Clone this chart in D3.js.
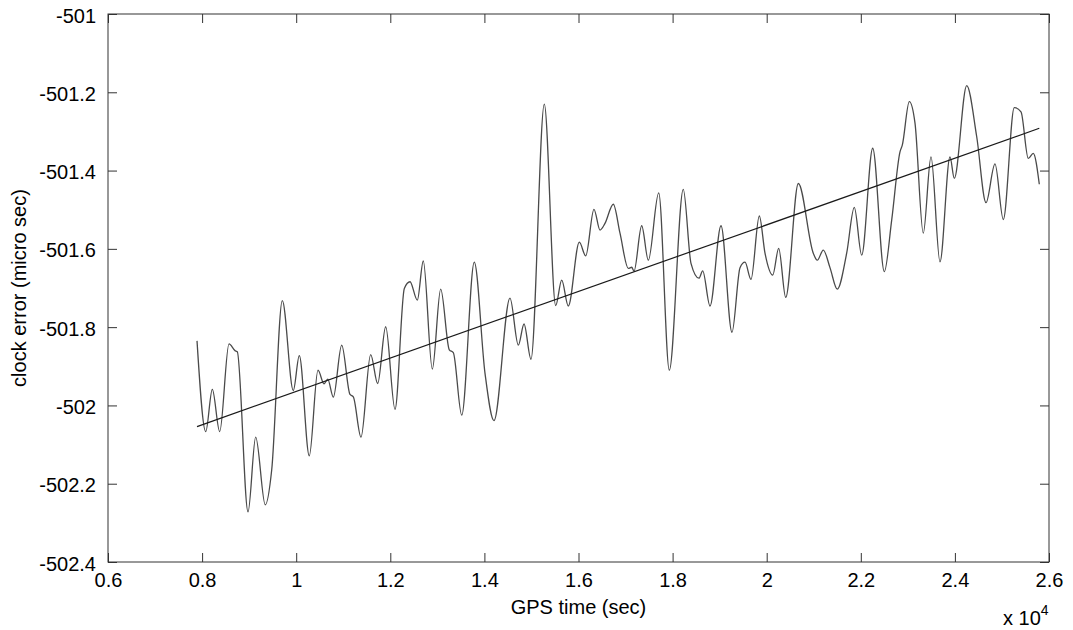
<!DOCTYPE html>
<html>
<head>
<meta charset="utf-8">
<script src="https://cdn.jsdelivr.net/npm/d3@7"></script>
<style>
  body { margin: 0; background: #fff; }
  svg text { font-family: "Liberation Sans", Arial, sans-serif; fill: #000; }
</style>
</head>
<body>
<script>
// GPS time (sec) and clock error (micro sec)
const gpsTime = [
  7892, 8077, 8217, 8374, 8572, 8699, 8748, 8976, 9139, 9343,
  9479, 9705, 9938, 10066, 10278, 10463, 10591, 10670, 10789, 10967,
  11143, 11214, 11377, 11583, 11732, 11902, 12100, 12298, 12419, 12574,
  12701, 12893, 13071, 13254, 13339, 13518, 13785, 14013, 14204, 14544,
  14721, 14842, 14990, 15273, 15515, 15643, 15783, 16017, 16153, 16329,
  16457, 16563, 16740, 16882, 17059, 17131, 17180, 17343, 17484, 17705,
  17930, 18227, 18391, 18561, 18640, 18795, 19029, 19262, 19433, 19539,
  19666, 19843, 19964, 20128, 20255, 20404, 20672, 20990, 21075, 21203,
  21345, 21500, 21700, 21862, 22019, 22253, 22500, 22657, 22833, 22882,
  23031, 23152, 23328, 23492, 23683, 23896, 23987, 24251, 24463, 24661,
  24852, 25029, 25262, 25405, 25560, 25666, 25794
];
const clockError = [
  -501.835, -502.067, -501.959, -502.067, -501.843, -501.860, -501.863, -502.272, -502.081, -502.254,
  -502.165, -501.732, -501.962, -501.873, -502.129, -501.910, -501.945, -501.933, -501.979, -501.846,
  -501.972, -501.978, -502.081, -501.870, -501.944, -501.799, -502.010, -501.701, -501.684, -501.731,
  -501.631, -501.907, -501.703, -501.858, -501.865, -502.025, -501.634, -501.918, -502.039, -501.726,
  -501.846, -501.792, -501.882, -501.230, -501.745, -501.680, -501.746, -501.583, -501.618, -501.499,
  -501.552, -501.535, -501.486, -501.560, -501.650, -501.647, -501.657, -501.541, -501.629, -501.457,
  -501.910, -501.448, -501.637, -501.675, -501.656, -501.746, -501.541, -501.813, -501.648, -501.634,
  -501.678, -501.516, -501.611, -501.667, -501.599, -501.724, -501.433, -501.611, -501.629, -501.603,
  -501.648, -501.703, -501.611, -501.494, -501.616, -501.343, -501.658, -501.526, -501.352, -501.335,
  -501.224, -501.279, -501.560, -501.365, -501.633, -501.365, -501.420, -501.183, -501.313, -501.482,
  -501.383, -501.525, -501.239, -501.250, -501.369, -501.356, -501.435
];

// linear fit end points
const fitTime = [7892, 25794];
const fitError = [-502.054, -501.292];

const xTicks = [6000, 8000, 10000, 12000, 14000, 16000, 18000, 20000, 22000, 24000, 26000];
const xTickLabels = ["0.6", "0.8", "1", "1.2", "1.4", "1.6", "1.8", "2", "2.2", "2.4", "2.6"];
const yTicks = [-502.4, -502.2, -502, -501.8, -501.6, -501.4, -501.2, -501];
const yTickLabels = ["-502.4", "-502.2", "-502", "-501.8", "-501.6", "-501.4", "-501.2", "-501"];

const width = 1073, height = 630;
const margin = {left: 108, right: 24, top: 14, bottom: 68};
const chartWidth = width - margin.left - margin.right;
const chartHeight = height - margin.top - margin.bottom;

const svg = d3.select("body")
    .append("svg")
      .attr("width", width)
      .attr("height", height);

const g = svg.append("g")
    .attr("transform", "translate(" + margin.left + "," + margin.top + ")");

const xScale = d3.scaleLinear()
    .domain([6000, 26000])
    .range([0, chartWidth]);

const yScale = d3.scaleLinear()
    .domain([-502.4, -501])
    .range([chartHeight, 0]);

const fontSize = "20px";
const axisColor = "#333";

// bottom axis with labels
const xAxis = g.append("g")
    .attr("transform", "translate(0," + chartHeight + ")")
    .call(d3.axisBottom(xScale)
        .tickValues(xTicks)
        .tickFormat((d, i) => xTickLabels[i])
        .tickSizeInner(-9)
        .tickSizeOuter(0)
        .tickPadding(11));

// left axis with labels
const yAxis = g.append("g")
    .call(d3.axisLeft(yScale)
        .tickValues(yTicks)
        .tickFormat((d, i) => yTickLabels[i])
        .tickSizeInner(-9)
        .tickSizeOuter(0)
        .tickPadding(12));

// top and right ticks, no labels
const xTop = g.append("g")
    .call(d3.axisTop(xScale)
        .tickValues(xTicks)
        .tickFormat("")
        .tickSizeInner(-9)
        .tickSizeOuter(0));

const yRight = g.append("g")
    .attr("transform", "translate(" + chartWidth + ",0)")
    .call(d3.axisRight(yScale)
        .tickValues(yTicks)
        .tickFormat("")
        .tickSizeInner(-9)
        .tickSizeOuter(0));

[xAxis, yAxis, xTop, yRight].forEach(a => {
  a.select(".domain").remove();
  a.selectAll(".tick line").attr("stroke", axisColor);
  a.selectAll(".tick text")
      .style("font-size", fontSize)
      .style("font-family", "'Liberation Sans', Arial, sans-serif")
      .attr("fill", "#000");
});
yAxis.selectAll(".tick text").attr("dy", "0.4em");

// box
g.append("rect")
    .attr("x", 0)
    .attr("y", 0)
    .attr("width", chartWidth)
    .attr("height", chartHeight)
    .attr("fill", "none")
    .attr("stroke", axisColor)
    .attr("stroke-width", 1);

// data curve
const series = gpsTime.map((t, i) => ({t: t, e: clockError[i]}));
const line = d3.line()
    .x(d => xScale(d.t))
    .y(d => yScale(d.e))
    .curve(d3.curveMonotoneX);

g.append("path")
    .datum(series)
    .attr("fill", "none")
    .attr("stroke", "#4a4a4a")
    .attr("stroke-width", 1.3)
    .attr("d", line);

// linear fit
const fit = fitTime.map((t, i) => ({t: t, e: fitError[i]}));
g.append("path")
    .datum(fit)
    .attr("fill", "none")
    .attr("stroke", "#1a1a1a")
    .attr("stroke-width", 1.2)
    .attr("d", d3.line().x(d => xScale(d.t)).y(d => yScale(d.e)));

// axis titles
svg.append("text")
    .attr("x", margin.left + chartWidth / 2)
    .attr("y", 614)
    .attr("text-anchor", "middle")
    .style("font-size", fontSize)
    .text("GPS time (sec)");

svg.append("text")
    .attr("transform", "translate(26," + (margin.top + chartHeight / 2) + ") rotate(-90)")
    .attr("text-anchor", "middle")
    .style("font-size", fontSize)
    .text("clock error (micro sec)");

// x 10^4 exponent label
const expo = svg.append("text")
    .attr("x", 1003)
    .attr("y", 625)
    .style("font-size", fontSize);
expo.append("tspan").text("x 10");
expo.append("tspan")
    .attr("dy", -10)
    .style("font-size", "14px")
    .text("4");
</script>
</body>
</html>
